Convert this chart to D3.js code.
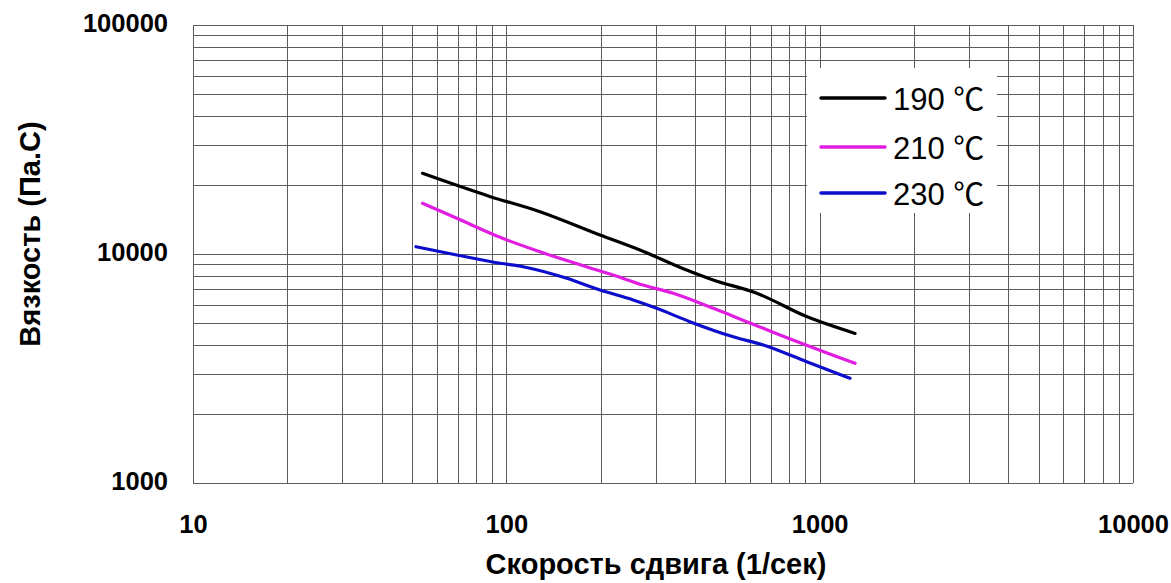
<!DOCTYPE html>
<html>
<head>
<meta charset="utf-8">
<script src="https://cdn.jsdelivr.net/npm/d3@7"></script>
<style>
  body { margin: 0; background: #fff; }
  svg { display: block; }
</style>
</head>
<body>
<svg id="chart" width="1171" height="583"></svg>
<script>
// shear rate (1/s) and viscosity (Pa.s)
var rate190 = [54, 89, 128, 199, 267, 376, 457, 630, 909, 1297];
var visc190 = [22500, 17800, 15300, 12100, 10400, 8510, 7700, 6740, 5330, 4500];

var rate210 = [54, 69.5, 95.5, 128, 180, 219, 273, 341, 458, 585, 747, 1297];
var visc210 = [16650, 14320, 11830, 10230, 8800, 8100, 7320, 6740, 5790, 5065, 4430, 3330];

var rate230 = [51.5, 69.5, 95.5, 113, 156, 199, 254, 302, 385, 530, 661, 909, 1250];
var visc230 = [10760, 9900, 9110, 8800, 7830, 6960, 6300, 5790, 5065, 4350, 4005, 3386, 2866];

var seriesNames = ["190 ℃", "210 ℃", "230 ℃"];
var seriesColors = ["#000000", "#e21de2", "#0d0dcc"];

var xTicks = [10, 100, 1000, 10000];
var yTicks = [1000, 10000, 100000];

var xTitle = "Скорость сдвига (1/сек)";
var yTitle = "Вязкость (Па.С)";

var svg = d3.select("#chart");
var plotLeft = 193, plotRight = 1133, plotTop = 25, plotBottom = 483;

var x = d3.scaleLog().domain([10, 10000]).range([plotLeft, plotRight]);
var y = d3.scaleLog().domain([1000, 100000]).range([plotBottom, plotTop]);

// log grid: every 1..9 in each decade
var xGrid = [];
for (var d = 10; d < 10000; d *= 10) {
  for (var k = 1; k < 10; k++) xGrid.push(d * k);
}
xGrid.push(10000);
var yGrid = [];
for (var d = 1000; d < 100000; d *= 10) {
  for (var k = 1; k < 10; k++) yGrid.push(d * k);
}
yGrid.push(100000);

var grid = svg.append("g").attr("shape-rendering", "crispEdges");
grid
  .selectAll("line.v")
  .data(xGrid)
  .enter()
  .append("line")
  .attr("x1", function (d) { return Math.round(x(d)) + 0.5; })
  .attr("x2", function (d) { return Math.round(x(d)) + 0.5; })
  .attr("y1", plotTop)
  .attr("y2", plotBottom)
  .attr("stroke", "#5c5c5c")
  .attr("stroke-width", 1);
grid
  .selectAll("line.h")
  .data(yGrid)
  .enter()
  .append("line")
  .attr("y1", function (d) { return Math.round(y(d)) + 0.5; })
  .attr("y2", function (d) { return Math.round(y(d)) + 0.5; })
  .attr("x1", plotLeft)
  .attr("x2", plotRight)
  .attr("stroke", "#5c5c5c")
  .attr("stroke-width", 1);

// axes labels (no tick marks, just numbers)
var xAxis = d3.axisBottom(x).tickValues(xTicks).tickSize(0).tickFormat(d3.format("d"));
svg
  .append("g")
  .attr("transform", "translate(0," + (plotBottom + 29) + ")")
  .call(xAxis)
  .call(function (g) { g.select(".domain").remove(); })
  .selectAll("text")
  .attr("font-family", "Liberation Sans, Arial, sans-serif")
  .attr("font-weight", "bold")
  .attr("font-size", 25.5)
  .attr("fill", "#000");

var yAxis = d3.axisLeft(y).tickValues(yTicks).tickSize(0).tickFormat(d3.format("d"));
svg
  .append("g")
  .attr("transform", "translate(" + (plotLeft - 22) + ",-2)")
  .call(yAxis)
  .call(function (g) { g.select(".domain").remove(); })
  .selectAll("text")
  .attr("font-family", "Liberation Sans, Arial, sans-serif")
  .attr("font-weight", "bold")
  .attr("font-size", 25.5)
  .attr("fill", "#000");

svg
  .append("text")
  .attr("x", 656)
  .attr("y", 574)
  .attr("text-anchor", "middle")
  .attr("font-family", "Liberation Sans, Arial, sans-serif")
  .attr("font-weight", "bold")
  .attr("font-size", 29)
  .text(xTitle);

svg
  .append("text")
  .attr("transform", "translate(40,234) rotate(-90)")
  .attr("text-anchor", "middle")
  .attr("font-family", "Liberation Sans, Arial, sans-serif")
  .attr("font-weight", "bold")
  .attr("font-size", 29)
  .text(yTitle);

// curves
var series = [
  { rate: rate190, visc: visc190 },
  { rate: rate210, visc: visc210 },
  { rate: rate230, visc: visc230 }
];
var line = d3
  .line()
  .x(function (p) { return x(p[0]); })
  .y(function (p) { return y(p[1]); })
  .curve(d3.curveMonotoneX);

svg
  .append("g")
  .selectAll("path")
  .data(series)
  .enter()
  .append("path")
  .attr("d", function (s) { return line(d3.zip(s.rate, s.visc)); })
  .attr("fill", "none")
  .attr("stroke", function (s, i) { return seriesColors[i]; })
  .attr("stroke-width", 3.2)
  .attr("stroke-linecap", "round")
  .attr("stroke-linejoin", "round");

// legend
var legend = svg.append("g");
legend
  .append("rect")
  .attr("x", 807)
  .attr("y", 68)
  .attr("width", 190)
  .attr("height", 145)
  .attr("fill", "#fff");

var legendY = [98, 147, 193];
var item = legend
  .selectAll("g.item")
  .data(seriesNames)
  .enter()
  .append("g")
  .attr("transform", function (d, i) { return "translate(0," + legendY[i] + ")"; });
item
  .append("line")
  .attr("x1", 821)
  .attr("x2", 885)
  .attr("stroke", function (d, i) { return seriesColors[i]; })
  .attr("stroke-width", 3.5)
  .attr("stroke-linecap", "round");
item
  .append("text")
  .attr("x", 893)
  .attr("y", 12)
  .attr("font-family", "Liberation Sans, Arial, Noto Sans CJK SC, sans-serif")
  .attr("font-size", 31)
  .attr("fill", "#000")
  .text(function (d) { return d; });
</script>
</body>
</html>
